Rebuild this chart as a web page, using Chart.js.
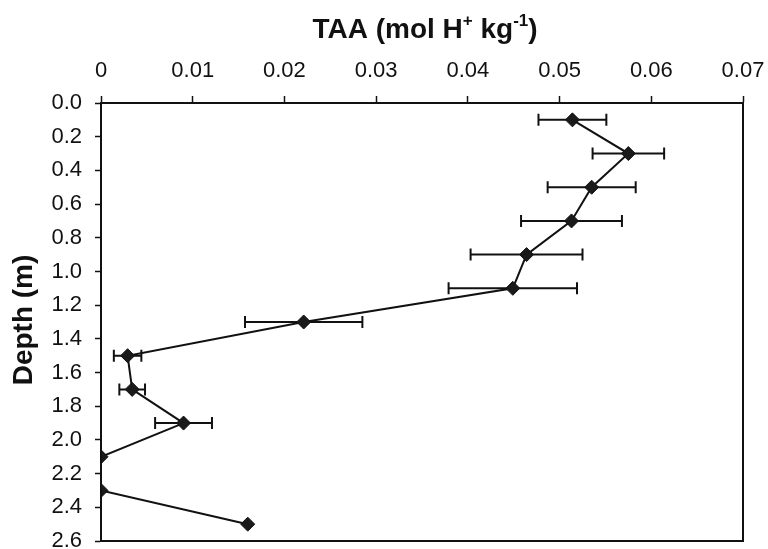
<!DOCTYPE html>
<html lang="en">
<head>
    <meta charset="UTF-8">
    <title>TAA vs Depth</title>
    <style>
        body {
            margin: 0;
            padding: 0;
            background-color: #fff;
        }
    </style>
</head>
<body>
    <canvas id="taa-chart" width="768" height="549"></canvas>

    <script src="https://cdn.jsdelivr.net/npm/chart.js"></script>
    <script>
        // data
        const depth = [0.1, 0.3, 0.5, 0.7, 0.9, 1.1, 1.3, 1.5, 1.7, 1.9, 2.1, 2.3, 2.5];
        const taa = [0.0514, 0.0575, 0.0535, 0.0513, 0.0464, 0.0449, 0.0221, 0.0029, 0.0034, 0.0090, 0.0, 0.0, 0.0160];
        const taaErr = [0.0037, 0.0039, 0.0048, 0.0055, 0.0061, 0.0070, 0.0064, 0.0015, 0.0014, 0.0031, 0, 0, 0];
        const xTicks = [0, 0.01, 0.02, 0.03, 0.04, 0.05, 0.06, 0.07];
        const yTicks = [0, 0.2, 0.4, 0.6, 0.8, 1.0, 1.2, 1.4, 1.6, 1.8, 2.0, 2.2, 2.4, 2.6];

        const ink = '#111';
        const fontFamily = '"Liberation Sans", Arial, sans-serif';

        // horizontal error bars, box frame and the two axis titles
        const extras = {
            id: 'extras',
            beforeDatasetsDraw(chart) {
                const ctx = chart.ctx;
                const xs = chart.scales.x;
                const ys = chart.scales.y;
                ctx.save();
                ctx.strokeStyle = ink;
                ctx.lineWidth = 2;
                for (let i = 0; i < depth.length; i++) {
                    if (!taaErr[i]) continue;
                    const y = ys.getPixelForValue(depth[i]);
                    const x1 = xs.getPixelForValue(taa[i] - taaErr[i]);
                    const x2 = xs.getPixelForValue(taa[i] + taaErr[i]);
                    ctx.beginPath();
                    ctx.moveTo(x1, y);
                    ctx.lineTo(x2, y);
                    ctx.moveTo(x1, y - 6);
                    ctx.lineTo(x1, y + 6);
                    ctx.moveTo(x2, y - 6);
                    ctx.lineTo(x2, y + 6);
                    ctx.stroke();
                }
                ctx.restore();
            },
            afterDraw(chart) {
                const ctx = chart.ctx;
                const a = chart.chartArea;
                ctx.save();
                ctx.strokeStyle = ink;
                ctx.lineWidth = 2;
                ctx.strokeRect(a.left, a.top, a.right - a.left, a.bottom - a.top);

                // top title with superscripts
                const parts = [['TAA (mol H', false], ['+', true], [' kg', false], ['-1', true], [')', false]];
                const big = 'bold 28px ' + fontFamily;
                const small = 'bold 17px ' + fontFamily;
                let total = 0;
                parts.forEach(p => {
                    ctx.font = p[1] ? small : big;
                    total += ctx.measureText(p[0]).width;
                });
                let x = 425 - total / 2;
                const base = 38;
                ctx.fillStyle = ink;
                ctx.textBaseline = 'alphabetic';
                ctx.textAlign = 'left';
                parts.forEach(p => {
                    ctx.font = p[1] ? small : big;
                    ctx.fillText(p[0], x, p[1] ? base - 12 : base);
                    x += ctx.measureText(p[0]).width;
                });

                // left title
                ctx.translate(24, 320);
                ctx.rotate(-Math.PI / 2);
                ctx.font = big;
                ctx.textAlign = 'center';
                ctx.textBaseline = 'middle';
                ctx.fillText('Depth (m)', 0, 0);
                ctx.restore();
            }
        };

        new Chart(document.getElementById('taa-chart'), {
            type: 'scatter',
            data: {
                datasets: [{
                    data: depth.map((d, i) => ({ x: taa[i], y: d })),
                    showLine: true,
                    borderColor: ink,
                    borderWidth: 2,
                    backgroundColor: ink,
                    pointStyle: 'rectRot',
                    pointRadius: 7,
                    pointBorderWidth: 1,
                    pointBorderColor: ink,
                    pointBackgroundColor: '#1a1a1a'
                }]
            },
            options: {
                responsive: false,
                animation: false,
                events: [],
                layout: {
                    padding: { left: 0, top: 0, right: 25, bottom: 8 }
                },
                plugins: {
                    legend: { display: false },
                    tooltip: { enabled: false }
                },
                scales: {
                    x: {
                        type: 'linear',
                        position: 'top',
                        min: 0,
                        max: 0.07,
                        afterBuildTicks: s => { s.ticks = xTicks.map(v => ({ value: v })); },
                        afterFit: s => {
                            s.height = 103;
                            s.paddingLeft = 0;
                            s.paddingRight = 0;
                        },
                        border: { color: ink, width: 2 },
                        grid: { drawOnChartArea: false, tickLength: 7, tickColor: ink, tickWidth: 1.5 },
                        ticks: {
                            color: ink,
                            padding: 12,
                            maxRotation: 0,
                            font: { family: fontFamily, size: 22 },
                            callback: v => v === 0 ? '0' : v.toFixed(2)
                        }
                    },
                    y: {
                        type: 'linear',
                        reverse: true,
                        min: 0,
                        max: 2.6,
                        afterBuildTicks: s => { s.ticks = yTicks.map(v => ({ value: v })); },
                        afterFit: s => {
                            s.width = 101;
                            s.paddingTop = 0;
                            s.paddingBottom = 0;
                        },
                        border: { color: ink, width: 2 },
                        grid: { drawOnChartArea: false, tickLength: 6, tickColor: ink, tickWidth: 1.5 },
                        ticks: {
                            color: ink,
                            padding: 13,
                            font: { family: fontFamily, size: 22 },
                            callback: v => v.toFixed(1)
                        }
                    }
                }
            },
            plugins: [extras]
        });
    </script>
</body>
</html>
